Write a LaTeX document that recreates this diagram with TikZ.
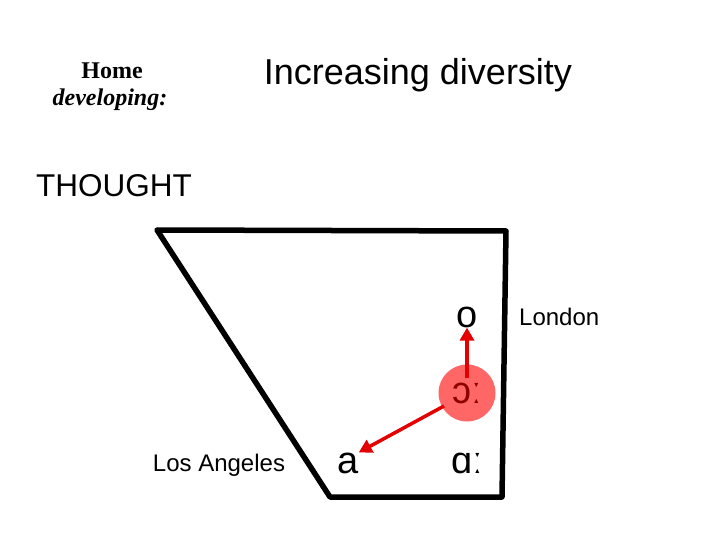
\documentclass[tikz,border=0pt]{standalone}
\usepackage{fontspec}
\setmainfont{Liberation Sans}
\newfontfamily\serifface{Liberation Serif}
\usetikzlibrary{arrows.meta}
\tikzset{
   vowel/.style={inner sep=0pt, font=\fontsize{38}{40}\selectfont},
   label text/.style={inner sep=0pt, font=\fontsize{24}{26}\selectfont},
   shift arrow/.style={draw=red!90!black, line width=3.5pt,
      -{Triangle[length=13pt,width=14pt]}},
    }
\begin{document}
\begin{tikzpicture}[x=1pt,y=1pt]
    \useasboundingbox (0,0) rectangle (720,-540);
    % headings
    \node[inner sep=0pt, font=\serifface\bfseries\fontsize{24}{26}\selectfont] (home) at (112,-71) {Home};
    \node[inner sep=0pt, font=\serifface\bfseries\itshape\fontsize{24}{26}\selectfont] (dev) at (110,-100) {developing:};
    \node[inner sep=0pt, font=\fontsize{36}{38}\selectfont] (title) at (418,-75) {Increasing diversity};
    \node[inner sep=0pt, anchor=west, font=\fontsize{31.5}{34}\selectfont] (thought) at (36,-186) {THOUGHT};
    % vowel space
    \draw[line width=5.5pt, line join=round] (157,-230) -- (506,-231) -- (502,-497) -- (330,-497) -- cycle;
    \node[circle, fill=red!60!white, minimum size=57pt, inner sep=0pt] (disk) at (467,-393) {};
    \node[vowel, text=red!55!black] (oo) at (disk) {ɔː};
    \node[vowel] (o) at (467,-317) {o};
    \node[vowel] (a) at (348,-463) {a};
    \node[vowel] (aa) at (467,-463) {ɑː};
    \node[label text, anchor=west] (london) at (519,-317) {London};
    \node[label text] (la) at (219,-465) {Los Angeles};
    \coordinate (up) at (467,-378);
    \draw[shift arrow] (up) -- (o.south);
    \draw[shift arrow] (disk) ++(-23,-13) -- (a.north east);
\end{tikzpicture}
\end{document}
